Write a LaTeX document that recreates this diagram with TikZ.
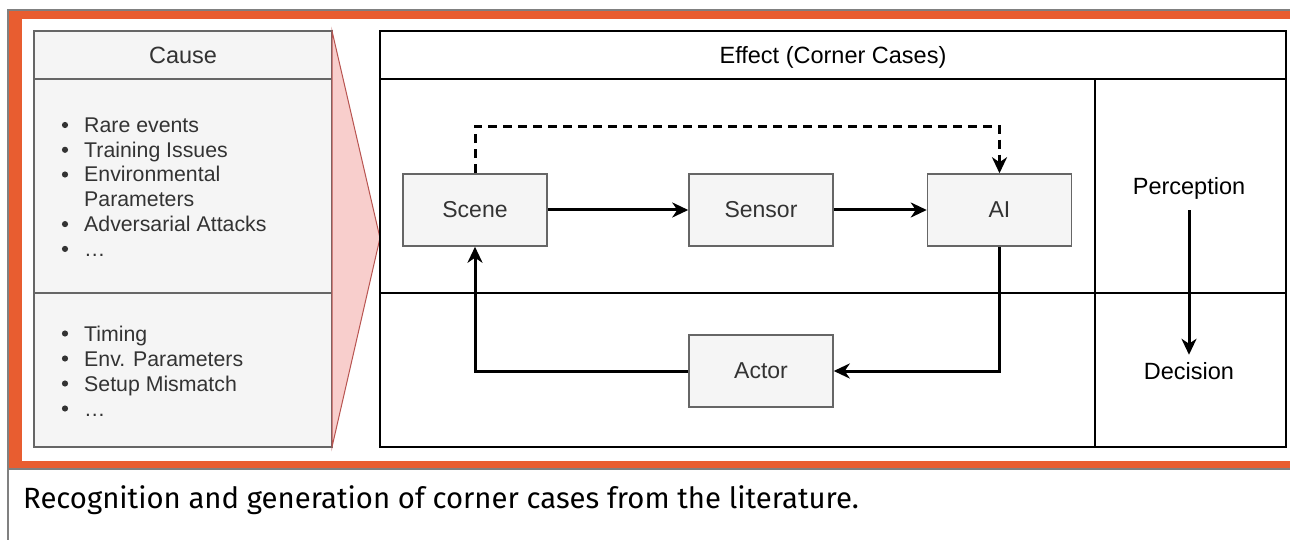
\documentclass[tikz,border=0pt]{standalone}
\usepackage{fontspec}
\setmainfont{Liberation Sans}
\newfontfamily\capfont{Fira Sans}
\usetikzlibrary{positioning,arrows.meta,calc}
\definecolor{frameorange}{HTML}{E85D30}
\definecolor{framegray}{HTML}{808080}
\definecolor{boxfill}{HTML}{F5F5F5}
\definecolor{boxline}{HTML}{666666}
\definecolor{boxtext}{HTML}{333333}
\definecolor{wedgefill}{HTML}{F8CECC}
\definecolor{wedgeline}{HTML}{B85450}
\tikzset{
    on grid,
    node distance=3cm,
    block/.style = {
        draw=boxline,
        fill=boxfill,
        shape=rectangle,
        minimum height=72pt,
        minimum width=144pt,
        line width=1.5pt,
        text=boxtext,
        font=\fontsize{23}{27}\selectfont
    },
    headtext/.style = {
        anchor=base,
        inner sep=0pt,
        font=\fontsize{23.5}{28}\selectfont
    },
    listtext/.style = {
        anchor=base west,
        inner sep=0pt,
        text=boxtext,
        font=\fontsize{21.3}{25}\selectfont
    },
    flow/.style = {
        line width=3pt,
        -{Stealth[length=16pt,width=15pt,inset=5pt]}
    },
}

\begin{document}
\begin{tikzpicture}[x=1pt, y=-1pt]
        \useasboundingbox (0,0) rectangle (1290,540);
        \fill[frameorange] (9,11) rectangle (1290,468);
        \fill[white] (22,19) rectangle (1290,461);
        \draw[framegray, line width=2pt] (8,540) -- (8,10) -- (1290,10);
        \draw[framegray, line width=2pt] (8,469) -- (1290,469);
        \node[anchor=base west, inner sep=0pt, font=\capfont\fontsize{29.3}{34}\selectfont] (caption) at (23,508) {Recognition and generation of corner cases from the literature.};

        \draw[boxline, fill=boxfill, line width=1.5pt] (34,31) rectangle (332,447);
        \draw[boxline, line width=1.5pt] (34,79) -- (332,79) (34,293) -- (332,293);
        \node[headtext, text=boxtext] (cause) at (183,63.5) {Cause};
        \foreach \y/\txt/\b [count=\i] in {132.5/Rare events/1, 157.3/Training Issues/1, 182/Environmental/1, 206.8/Parameters/0, 231.6/Adversarial Attacks/1, 256.4/\ldots/1, 341/Timing/1, 366/Env. Parameters/1, 391/Setup Mismatch/1, 416/\ldots/1}{
            \node[listtext] (item\i) at (84,\y) {\txt};
            \ifnum\b=1 \fill[boxtext] (65,\y-7.5) circle (3.1); \fi
        }
        \draw[wedgeline, fill=wedgefill, line width=1pt] (332,31) -- (380,238) -- (332,447) -- cycle;

        \draw[line width=2pt] (380,31) rectangle (1286,447);
        \draw[line width=1.5pt] (380,79) -- (1286,79);
        \draw[line width=1.2pt] (380,293) -- (1286,293);
        \draw[line width=1.5pt] (1095,79) -- (1095,447);
        \node[headtext] (effect) at (833,63.5) {Effect (Corner Cases)};

        \node[block] (scene) at (475,210) {Scene};
        \node[block, right=286pt of scene] (sensor) {Sensor};
        \node[block, right=238.5pt of sensor] (ai) {AI};
        \node[block, below=161pt of sensor] (actor) {Actor};
        \node[headtext] (perception) at (1189,195) {Perception};
        \node[headtext] (decision) at (1189,379.5) {Decision};

        \draw[flow] (scene) -- (sensor);
        \draw[flow] (sensor) -- (ai);
        \draw[flow, dash pattern=on 9pt off 6pt] (scene.north) -- ++(0,-47) -| (ai.north);
        \draw[flow] (ai.south) |- (actor.east);
        \draw[flow] (actor.west) -| (scene.south);
        \draw[flow, shorten <=10pt, shorten >=7.5pt] (perception) -- (decision);
    \end{tikzpicture}
\end{document}
